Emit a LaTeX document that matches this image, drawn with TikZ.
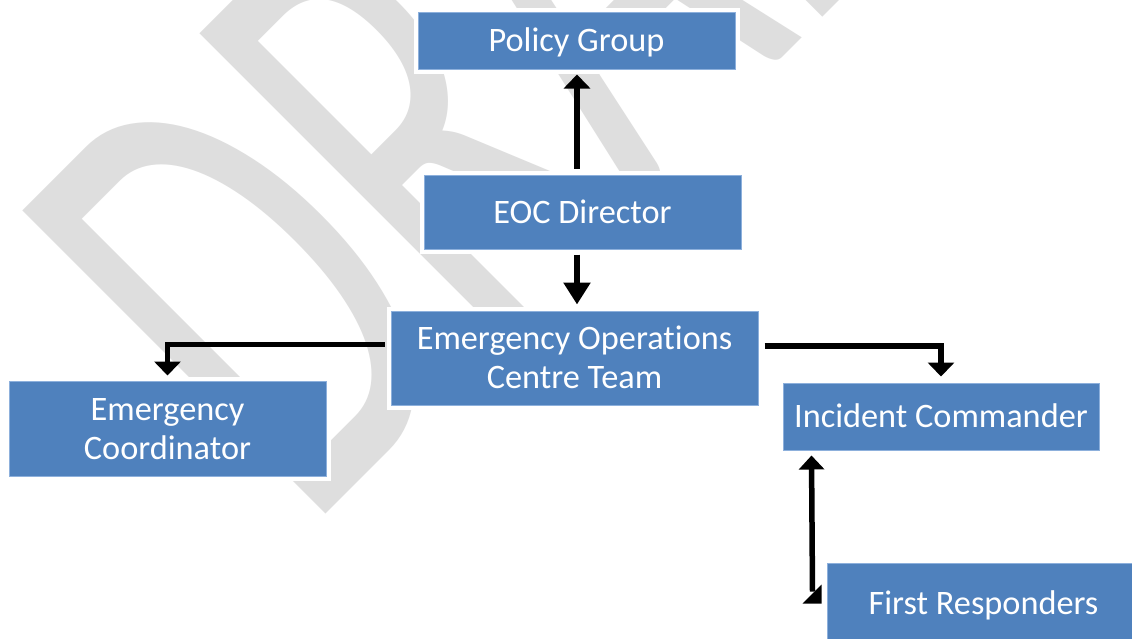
\documentclass[tikz,border=0pt]{standalone}
\usepackage{fontspec}
\setmainfont{Carlito}[Ligatures={NoCommon}]
\usetikzlibrary{arrows.meta}
\definecolor{boxblue}{HTML}{4F81BD}
\definecolor{boxedge}{HTML}{8DB0DC}
\definecolor{wmgray}{HTML}{DEDEDE}
\begin{document}
\begin{tikzpicture}[x=1pt,y=-1pt,
  box/.style={fill=boxblue, draw=boxedge, line width=1pt,
    preaction={draw=white,line width=9pt}, inner sep=0pt, text=white,
    font=\fontsize{34.3}{39}\selectfont, align=center},
  oneline/.style={text height=22pt, text depth=0pt},
  twoline/.style={text height=61pt, text depth=0pt},
  arr/.style={draw=black, line width=5.5pt, -{Triangle[width=26pt,length=14pt]}},
  arrlong/.style={draw=black, line width=5.5pt, -{Triangle[width=26pt,length=22pt]}},
  arrback/.style={draw=black, line width=5.5pt, {Triangle[width=25pt,length=14pt]}-},
]
\useasboundingbox (0,0) rectangle (1132,638);
\clip (0,0) rectangle (1132,638);
\fill[white] (0,0) rectangle (1132,638);
% watermark
\node[rotate=45, anchor=base west, inner sep=0pt, text=wmgray] (wm) at (306,534)
  {\scalebox{1}[1.65]{\fontsize{405}{405}\selectfont DRAFT}};
% boxes
\node[box, oneline, minimum width=317pt, minimum height=57pt] (policy) at (576.5,40.5) {Policy Group};
\node[box, oneline, minimum width=317pt, minimum height=74pt] (director) at (582.5,212) {EOC Director};
\node[box, twoline, minimum width=367pt, minimum height=94pt] (team) at (574.5,358) {Emergency Operations\\Centre Team};
\node[box, twoline, minimum width=317pt, minimum height=95pt] (coord) at (167.5,428.5) {Emergency\\Coordinator};
\node[box, oneline, minimum width=316pt, minimum height=67pt] (ic) at (941,416.5) {Incident Commander};
\node[box, oneline, minimum width=313pt, minimum height=80pt] (fr) at (983.5,603) {First Responders};
% connectors
\draw[arr] ([shift={(-5.5pt,6pt)}]director.north) -- ([shift={(0.5pt,-5pt)}]policy.south);
\draw[arrlong] ([shift={(-5.5pt,-5pt)}]director.south) -- ([shift={(2.5pt,6pt)}]team.north);
\draw[arr] ([shift={(-6pt,13.5pt)}]team.west) -| ([yshift=5pt]coord.north);
\draw[arr] ([shift={(6pt,12pt)}]team.east) -| ([yshift=6pt]ic.north);
\coordinate (frend) at ([shift={(-14pt,-29pt)}]fr.north west);
\draw[arrback] ([shift={(29pt,-5pt)}]ic.south west) -- (frend);
\fill[black] ([shift={(-24pt,-41pt)}]fr.north west) -- ([shift={(-5pt,-41pt)}]fr.north west) -- ([shift={(-5pt,-22pt)}]fr.north west) -- cycle;
\end{tikzpicture}
\end{document}
